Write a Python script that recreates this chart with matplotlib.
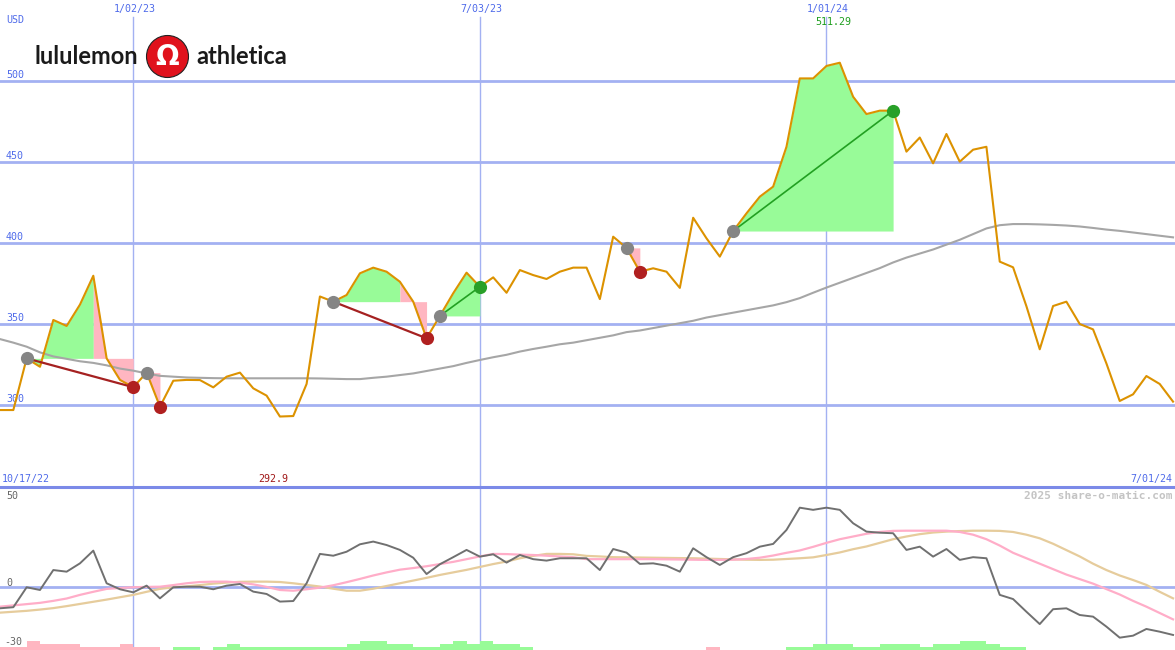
import matplotlib
matplotlib.use("Agg")
import matplotlib.pyplot as plt
import pandas as pd
from matplotlib.patches import Ellipse
from matplotlib.lines import Line2D

W, H = 1175, 650

# weekly closes, 10/24/22 .. 7/01/24
weeks = pd.date_range("2022-10-24", periods=89, freq="7D")

price = [296.9, 296.9, 328.8, 323.6, 352.5, 348.8, 362.0, 379.8, 328.8, 315.5,
         311.0, 320.0, 299.0, 315.0, 315.5, 315.4, 310.9, 317.5, 320.0, 310.3,
         305.8, 292.9, 293.2, 313.0, 367.0, 363.8, 367.9, 381.3, 384.8, 382.3,
         376.1, 363.8, 341.2, 355.0, 369.0, 381.7, 373.0, 378.8, 369.3, 383.3,
         380.2, 377.8, 382.3, 384.8, 384.8, 365.4, 403.9, 397.0, 382.3, 384.4,
         382.3, 372.3, 415.6, 402.9, 391.6, 407.4, 418.3, 428.6, 434.8, 459.4,
         501.6, 501.6, 509.3, 511.29, 490.3, 479.6, 481.7, 481.7, 456.4, 465.1,
         449.2, 467.3, 450.2, 457.6, 459.4, 388.5, 385.0, 361.0, 334.4, 361.1,
         363.8, 350.0, 346.7, 325.7, 302.5, 306.6, 317.9, 313.0, 302.1]

ma = [340.7, 338.5, 336.0, 332.5, 330.0, 328.5, 327.0, 326.0, 324.5, 322.5,
      321.2, 319.5, 318.0, 317.5, 317.0, 316.8, 316.6, 316.5, 316.5, 316.5,
      316.5, 316.5, 316.5, 316.5, 316.4, 316.2, 316.0, 316.0, 316.8, 317.5,
      318.5, 319.5, 321.0, 322.5, 324.0, 326.0, 327.8, 329.5, 331.0, 333.0,
      334.6, 336.0, 337.5, 338.5, 340.0, 341.5, 343.0, 345.0, 346.0, 347.5,
      349.0, 350.5, 352.0, 354.0, 355.5, 357.0, 358.5, 360.0, 361.5, 363.5,
      366.0, 369.3, 372.5, 375.5, 378.5, 381.5, 384.5, 388.0, 391.0, 393.5,
      396.0, 399.0, 402.0, 405.5, 409.0, 411.0, 411.7, 411.7, 411.5, 411.2,
      410.8, 410.2, 409.3, 408.3, 407.5, 406.5, 405.5, 404.5, 403.5]

osc = [-11.6, -11.0, 0.0, -1.5, 9.5, 8.6, 13.2, 20.2, 2.2, -1.1,
       -2.8, 0.9, -6.1, 0.0, 0.3, 0.3, -1.1, 0.9, 1.8, -2.4,
       -3.7, -7.9, -7.6, 2.2, 18.4, 17.4, 19.6, 23.7, 25.2, 23.3,
       20.6, 16.3, 7.3, 12.7, 16.6, 20.6, 16.9, 18.2, 13.6, 17.8,
       15.5, 14.7, 16.0, 16.0, 16.0, 9.5, 21.1, 19.1, 12.9, 13.2,
       11.9, 8.6, 21.5, 16.6, 12.3, 16.6, 18.8, 22.4, 23.9, 31.6,
       43.9, 42.7, 43.9, 42.7, 35.3, 30.7, 30.1, 29.8, 20.6, 22.4,
       16.9, 21.1, 15.1, 16.6, 16.0, -4.2, -6.5, -13.5, -20.3, -12.1,
       -11.6, -15.3, -16.2, -21.7, -27.8, -26.7, -23.0, -24.5, -26.3]

osc_fast = [-10.7, -10.0, -9.3, -8.6, -7.5, -6.2, -4.2, -2.5, -0.9, -0.4,
            0.0, 0.2, 0.3, 1.2, 2.2, 2.9, 3.1, 3.1, 2.6, 1.6,
            0.2, -1.5, -1.9, -1.1, -0.2, 1.1, 2.8, 4.6, 6.5, 8.2,
            9.7, 10.6, 11.6, 12.8, 14.0, 15.5, 17.0, 18.4, 18.3, 18.0,
            17.8, 17.4, 17.0, 16.6, 15.5, 15.5, 15.5, 15.5, 15.5, 15.5,
            15.4, 15.3, 15.2, 15.1, 15.1, 15.2, 15.6, 16.3, 17.5, 19.0,
            20.3, 22.3, 24.5, 26.5, 28.0, 29.5, 30.5, 31.1, 31.2, 31.2,
            31.2, 31.2, 30.5, 29.0, 26.5, 23.0, 19.0, 16.0, 13.0, 10.0,
            7.0, 4.5, 2.0, -1.0, -4.0, -7.5, -10.7, -14.2, -17.7]

osc_slow = [-14.0, -13.5, -13.0, -12.3, -11.5, -10.4, -9.2, -8.0, -6.8, -5.5,
            -4.2, -2.5, -0.9, 0.0, 0.5, 1.2, 2.0, 2.6, 3.0, 3.1,
            3.1, 2.9, 2.2, 1.3, 0.4, -0.8, -1.9, -1.9, -0.8, 0.7,
            2.2, 3.7, 5.2, 6.8, 8.2, 9.6, 11.2, 12.8, 14.2, 16.0,
            17.3, 18.4, 18.4, 18.2, 17.3, 17.0, 16.6, 16.5, 16.4, 16.3,
            16.2, 16.1, 16.0, 15.8, 15.6, 15.4, 15.2, 15.1, 15.2, 15.6,
            16.0, 16.5, 17.8, 19.2, 21.0, 22.5, 24.5, 26.5, 28.0, 29.3,
            30.2, 30.7, 31.0, 31.2, 31.2, 31.1, 30.5, 29.0, 27.0, 24.0,
            20.5, 17.0, 13.0, 9.5, 6.5, 4.0, 1.3, -2.5, -6.1]

# weekly signal strength (negative = sell side)
signal = [-1, -1, -3, -2, -2, -2, -1, -1, -1, -2, -1, -1, 0,
          1, 1, 0, 1, 2, 1, 1, 1, 1, 1, 1, 1, 1, 2, 3, 3, 2, 2, 1, 1,
          2, 3, 2, 3, 2, 2, 1,
          0, 0, 0, 0, 0, 0, 0, 0, 0, 0, 0, 0, 0,
          -1, 0, 0, 0, 0, 0,
          1, 1, 2, 2, 2, 1, 1, 2, 2, 2, 1, 2, 2, 3, 3, 2, 1, 1,
          0, 0, 0, 0, 0, 0, 0, 0, 0, 0, 0, 0]

# trades: entry week, week where the shading turns pink, exit week
trade_entry = [2, 11, 25, 33, 47, 55]
trade_turn = [7, 11, 30, 36, 47, 67]
trade_exit = [10, 12, 32, 36, 48, 67]

grid_dates = pd.to_datetime(["2023-01-02", "2023-07-03", "2024-01-01"])
grid_labels = ["1/02/23", "7/03/23", "1/01/24"]
price_ticks = [300, 350, 400, 450, 500]

GRID = "#a3b1f2"
BLUE = "#4f6bea"
GREEN_FILL = "#98fb98"
PINK_FILL = "#ffb6c1"
MONO = "DejaVu Sans Mono"

fig = plt.figure(figsize=(W / 100, H / 100), dpi=100)
fig.patch.set_facecolor("white")

x0 = weeks[0]
x1 = weeks[0] + pd.Timedelta(days=7 * 1175 / 13.33)

ax = fig.add_axes([0, 1 - 487 / H, 1, 487 / H])
ax2 = fig.add_axes([0, 0, 1, 161 / H])
for a in (ax, ax2):
    a.set_xlim(x0, x1)
    a.axis("off")
ax.set_ylim(249.4, 550)
ax2.set_ylim(-34.6, 54.2)

for p in price_ticks:
    ax.axhline(p, color=GRID, lw=2, zorder=1)
    ax.text(6 / W, p + 0.9, str(p), transform=ax.get_yaxis_transform(),
            color=BLUE, fontsize=7.2, family=MONO, va="bottom", ha="left")
for d in grid_dates:
    ax.axvline(d, ymax=1 - 17 / 487, color=GRID, lw=1, zorder=1)
    ax2.axvline(d, color=GRID, lw=1, zorder=1)
ax2.axhline(0, color=GRID, lw=2, zorder=1)

# trade shading, lines and markers
for e, t, x in zip(trade_entry, trade_turn, trade_exit):
    level = price[e]
    if t > e:
        ax.fill_between(weeks[e:t + 1], price[e:t + 1], level,
                        color=GREEN_FILL, lw=0, zorder=2)
    if x > t:
        ax.fill_between(weeks[t:x + 1], price[t:x + 1], level,
                        color=PINK_FILL, lw=0, zorder=2)

ax.plot(weeks, ma, color="#a6a6a6", lw=1.5, zorder=3)
ax.plot(weeks, price, color="#dc9200", lw=1.5, zorder=4)

for e, t, x in zip(trade_entry, trade_turn, trade_exit):
    win = price[x] > price[e]
    lc = "#22a022" if win else "#a52121"
    mc = "#28a028" if win else "#b02020"
    if x - e > 1:
        ax.plot([weeks[e], weeks[x]], [price[e], price[x]], color=lc,
                lw=1.2 if win else 1.6, zorder=5)
    ax.plot(weeks[e], price[e], "o", color="#858585", ms=9.5, mew=0, zorder=6)
    ax.plot(weeks[x], price[x], "o", color=mc, ms=9.5, mew=0, zorder=6)

# lower panel
ax2.plot(weeks, osc_slow, color="#e6cc9c", lw=1.6, zorder=3)
ax2.plot(weeks, osc_fast, color="#ffadc8", lw=1.6, zorder=3)
ax2.plot(weeks, osc, color="#707070", lw=1.4, zorder=4)

axb = ax2.twinx()
axb.set_xlim(x0, x1)
axb.set_ylim(0, 161 / 3)
axb.axis("off")
axb.bar(weeks, [abs(s) for s in signal], width=7, align="edge",
        color=[GREEN_FILL if s > 0 else PINK_FILL for s in signal], lw=0)

# separator
fig.add_artist(Line2D([0, 1], [1 - 487 / H] * 2, color="#7b8ae8", lw=2.2))

# texts
def ftext(x, y, s, **kw):
    fig.text(x / W, 1 - y / H, s, **kw)

small = dict(fontsize=7.2, family=MONO, va="center")
ftext(6, 20, "USD", color=BLUE, ha="left", **small)
for d, lab in zip(grid_dates, grid_labels):
    xp = (d - x0) / (x1 - x0) * W + 1.5
    ftext(xp, 9, lab, color=BLUE, ha="center", **small)

imax = price.index(max(price))
imin = price.index(min(price))
ftext(imax * 13.33 - 6, 22, f"{max(price):.2f}", color="#1e9e1e", ha="center", **small)
ftext(imin * 13.33 - 7, 479, f"{min(price):.1f}", color="#a01818", ha="center", **small)
ftext(2, 479, "10/17/22", color=BLUE, ha="left", **small)
ftext(1172, 479, "7/01/24", color=BLUE, ha="right", **small)

ftext(6, 496, "50", color="#666666", ha="left", **small)
ftext(6, 583, "0", color="#666666", ha="left", **small)
ftext(4, 642, "-30", color="#666666", ha="left", **small)
ftext(1172, 496, "2025 share-o-matic.com", color="#c4c4c4", ha="right",
      fontsize=8, family=MONO, weight="bold", va="center")

# logo
ftext(34, 56, "lululemon", color="#1a1a1a", ha="left", va="center",
      fontsize=17, family="Lato", weight="bold")
ftext(196, 56, "athletica", color="#1a1a1a", ha="left", va="center",
      fontsize=17, family="Lato", weight="bold")
fig.add_artist(Ellipse((167.5 / W, 1 - 56.5 / H), 42 / W, 42 / H,
                       transform=fig.transFigure, facecolor="#e0121c",
                       edgecolor="#222222", lw=0.8))
ftext(167.5, 57, "Ω", color="white", ha="center", va="center",
      fontsize=20, family="DejaVu Sans", weight="bold")

fig.savefig("out.png", dpi=100, facecolor="white")
